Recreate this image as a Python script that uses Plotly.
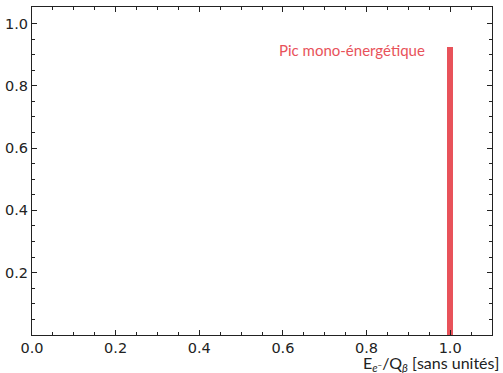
import plotly.graph_objects as go

# Data
peak_x = [1.0]
peak_y = [0.925]
x_ticks = [0.0, 0.2, 0.4, 0.6, 0.8, 1.0]
y_ticks = [0.2, 0.4, 0.6, 0.8, 1.0]
label_text = "Pic mono-énergétique"
xlabel = "E<sub><i>e</i><sup>−</sup></sub>/Q<sub><i>β</i></sub> [sans unités]"

red = "#e8525a"
axcol = "#222222"

fig = go.Figure()
fig.add_trace(go.Bar(x=peak_x, y=peak_y, width=0.014, marker=dict(color=red, line=dict(width=0)),
                     showlegend=False, hoverinfo="skip"))

fig.add_annotation(x=0.945, y=0.915, xref="x", yref="y", text=label_text, showarrow=False,
                   xanchor="right", yanchor="middle",
                   font=dict(family="Lato", size=15, color=red))
fig.add_annotation(x=1.02, y=-0.086, xref="paper", yref="paper", text=xlabel, showarrow=False,
                   xanchor="right", yanchor="middle",
                   font=dict(family="Lato", size=16, color=axcol))

axis_common = dict(showgrid=False, zeroline=False, showline=True, linecolor=axcol, linewidth=1,
                   mirror="ticks", ticks="inside", ticklen=5, tickwidth=1, tickcolor=axcol,
                   automargin=False,
                   tickfont=dict(family="DejaVu Sans", size=14.5, color=axcol),
                   minor=dict(ticks="inside", ticklen=3, tickwidth=1, tickcolor=axcol, dtick=0.05, showgrid=False))

fig.update_xaxes(range=[0, 1.1], tickvals=x_ticks, ticktext=[f"{v:.1f}" for v in x_ticks], **axis_common)
fig.update_yaxes(range=[0, 1.053], tickvals=y_ticks, ticktext=[f"{v:.1f}" for v in y_ticks], **axis_common)

fig.update_layout(width=503, height=373, margin=dict(l=32, r=11, t=7, b=38),
                  plot_bgcolor="white", paper_bgcolor="white", bargap=0)

fig.write_html("out.html", config={"displayModeBar": False},
               post_script="document.body.style.margin='0';")
